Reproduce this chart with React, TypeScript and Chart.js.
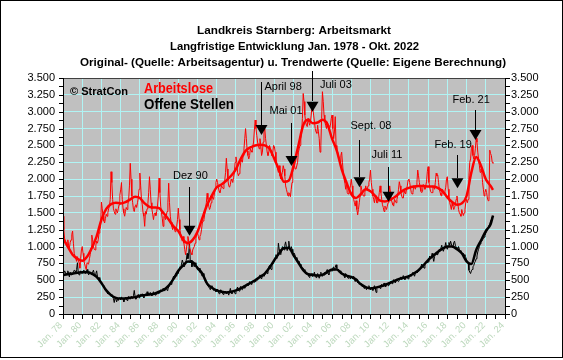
import React, { useEffect, useRef } from 'react';
import { Chart, registerables } from 'chart.js';

Chart.register(...registerables);

// ---------------- DATA ----------------
const START_YEAR = 1978; // first month: Jan. 1978, last month: Okt. 2022

const arbeitsloseOriginal: number[] = [
  1450, 1250, 1120, 1080, 1050, 1000, 1100, 1020, 980, 1060, 1100, 1180,
  1230, 1050, 900, 860, 820, 780, 850, 800, 760, 680, 820, 950,
  1000, 900, 800, 740, 700, 660, 760, 760, 740, 820, 880, 980,
  1170, 1100, 1000, 960, 950, 1020, 1080, 1050, 1100, 1200, 1250, 1300,
  1660, 1560, 1450, 1380, 1350, 1420, 1480, 1450, 1500, 1560, 1600, 1700,
  2110, 1950, 1700, 1560, 1520, 1480, 1560, 1530, 1500, 1560, 1620, 1760,
  1840, 1950, 1700, 1560, 1500, 1450, 1520, 1580, 1550, 1620, 1700, 1900,
  2235, 2000, 1750, 1650, 1550, 1520, 1600, 1620, 1580, 1650, 1720, 1850,
  2090, 1900, 1700, 1620, 1500, 1450, 1300, 1520, 1480, 1560, 1640, 1800,
  2036, 1850, 1650, 1560, 1480, 1400, 1480, 1500, 1460, 1520, 1600, 1750,
  2016, 1800, 1600, 1500, 1420, 1300, 1450, 1440, 1400, 1460, 1520, 1650,
  1940, 1650, 1450, 1360, 1300, 1250, 1300, 1280, 1220, 1260, 1300, 1400,
  1570, 1400, 1250, 1180, 1120, 1080, 1150, 1050, 960, 880, 950, 1050,
  1150, 1080, 980, 950, 900, 880, 950, 980, 1000, 1050, 1120, 1200,
  1200, 1150, 1100, 1150, 1180, 1250, 1350, 1380, 1400, 1480, 1550, 1650,
  1790, 1700, 1600, 1550, 1580, 1650, 1750, 1720, 1700, 1780, 1850, 1950,
  2000, 1950, 1880, 1820, 1800, 1850, 1900, 1880, 1860, 1920, 1980, 2100,
  2310, 2150, 1980, 1900, 1880, 1920, 2000, 1980, 1950, 2020, 2100, 2250,
  2330, 2250, 2100, 2050, 2080, 2150, 2250, 2280, 2250, 2350, 2450, 2600,
  2750, 2600, 2420, 2350, 2300, 2350, 2450, 2420, 2400, 2480, 2550, 2729,
  2877, 2750, 2650, 2550, 2500, 2450, 2600, 2500, 2350, 2400, 2550, 2700,
  2750, 2600, 2500, 2400, 2350, 2400, 2500, 2450, 2400, 2350, 2400, 2500,
  2480, 2400, 2250, 2200, 2150, 2100, 2200, 2050, 2000, 2050, 2100, 2200,
  2150, 2050, 1900, 1850, 1800, 1750, 1800, 1780, 1740, 1850, 1950, 2100,
  2250, 2200, 2150, 2150, 2150, 2250, 2400, 2450, 2500, 2600, 2700, 2900,
  3270, 3150, 2950, 2850, 2800, 2780, 2900, 2850, 2800, 2850, 2950, 3100,
  3050, 2950, 2850, 2750, 2700, 2680, 2800, 2700, 2600, 2400, 2500, 2900,
  3297, 3150, 2950, 2850, 2800, 2750, 2850, 2800, 2750, 2750, 2800, 2900,
  2950, 2750, 2600, 2700, 2927, 2500, 2450, 2400, 2350, 2300, 2250, 2350,
  2400, 2250, 2100, 2000, 1950, 1850, 1950, 1800, 1780, 1800, 1850, 1900,
  2000, 1900, 1750, 1700, 1650, 1600, 1680, 1550, 1470, 1550, 1650, 1750,
  1900, 1850, 1800, 1750, 1750, 1800, 1900, 1850, 1850, 1900, 1950, 2000,
  2135, 1950, 1850, 1750, 1700, 1650, 1750, 1700, 1650, 1650, 1700, 1800,
  1900, 1800, 1700, 1620, 1580, 1520, 1600, 1580, 1550, 1600, 1650, 1750,
  1900, 1800, 1700, 1650, 1620, 1600, 1700, 1680, 1650, 1700, 1750, 1850,
  1962, 1900, 1800, 1750, 1720, 1720, 1820, 1800, 1780, 1850, 1900, 1987,
  2000, 1950, 1870, 1800, 1780, 1800, 1900, 1880, 1850, 1900, 1950, 2135,
  2050, 1950, 1880, 1820, 1800, 1820, 1920, 1900, 1850, 1900, 1960, 2110,
  2185, 1950, 1880, 1820, 1800, 1800, 1900, 1880, 1850, 1950, 2087, 2050,
  2061, 1950, 1850, 1800, 1760, 1750, 1850, 1820, 1780, 1820, 1880, 2012,
  2036, 1850, 1700, 1650, 1600, 1550, 1650, 1600, 1550, 1580, 1620, 1700,
  1750, 1650, 1550, 1500, 1480, 1450, 1550, 1500, 1460, 1500, 1550, 1650,
  1700, 1650, 1700, 2050, 2250, 2300, 2450, 2500, 2350, 2300, 2350, 2450,
  2606, 2550, 2400, 2300, 2200, 2100, 2150, 2100, 1950, 1850, 1750, 1800,
  1850, 1800, 1720, 1680, 1700, 2430, 2380, 2350, 2250, 2235,
];

const offeneStellenOriginal: number[] = [
  560, 600, 640, 620, 580, 610, 640, 600, 550, 620, 580, 600,
  580, 620, 650, 640, 600, 660, 760, 620, 580, 600, 640, 610,
  600, 640, 650, 630, 600, 640, 660, 620, 580, 600, 620, 590,
  580, 620, 650, 600, 560, 600, 640, 560, 520, 540, 500, 480,
  470, 450, 420, 400, 380, 360, 340, 330, 300, 320, 290, 280,
  260, 290, 250, 230, 170, 240, 220, 180, 230, 200, 240, 230,
  210, 250, 240, 220, 180, 230, 250, 220, 200, 240, 260, 230,
  220, 260, 250, 230, 270, 350, 260, 220, 240, 260, 290, 240,
  250, 290, 280, 300, 260, 240, 280, 300, 270, 330, 290, 310,
  280, 320, 290, 270, 300, 330, 300, 280, 310, 290, 320, 300,
  310, 340, 360, 330, 350, 380, 360, 340, 370, 390, 350, 370,
  400, 430, 460, 440, 480, 520, 560, 520, 580, 600, 560, 620,
  600, 660, 700, 680, 740, 800, 760, 700, 720, 760, 800, 900,
  820, 900, 1050, 760, 800, 700, 760, 720, 700, 760, 740, 700,
  700, 660, 680, 620, 640, 580, 560, 600, 540, 520, 480, 460,
  440, 420, 400, 380, 360, 400, 420, 380, 350, 370, 340, 330,
  340, 370, 330, 300, 320, 360, 340, 310, 290, 330, 320, 340,
  300, 330, 310, 280, 330, 380, 320, 300, 340, 350, 330, 300,
  330, 370, 400, 350, 340, 380, 410, 370, 360, 390, 420, 380,
  400, 430, 450, 420, 440, 480, 470, 440, 460, 480, 500, 470,
  480, 510, 530, 500, 540, 560, 580, 540, 520, 560, 590, 560,
  580, 620, 640, 600, 650, 700, 720, 680, 660, 720, 740, 760,
  780, 840, 880, 820, 860, 1050, 960, 900, 880, 950, 1000, 980,
  950, 1020, 1070, 1000, 940, 1000, 1080, 980, 940, 1000, 960, 920,
  880, 900, 860, 820, 840, 800, 760, 780, 720, 740, 700, 680,
  680, 640, 660, 600, 620, 580, 600, 560, 540, 580, 600, 560,
  600, 580, 620, 560, 540, 580, 600, 560, 530, 580, 620, 570,
  560, 600, 580, 620, 600, 640, 660, 600, 580, 620, 650, 640,
  640, 680, 700, 650, 690, 730, 680, 640, 660, 620, 640, 600,
  620, 580, 600, 560, 540, 600, 580, 550, 530, 560, 540, 520,
  560, 540, 520, 560, 500, 480, 520, 500, 460, 480, 440, 460,
  450, 430, 400, 420, 380, 410, 390, 360, 400, 380, 420, 390,
  360, 400, 370, 350, 390, 420, 380, 320, 380, 410, 390, 400,
  380, 420, 440, 400, 430, 460, 420, 400, 430, 450, 420, 440,
  440, 470, 490, 450, 480, 510, 480, 460, 500, 520, 490, 480,
  500, 530, 550, 510, 540, 570, 540, 510, 530, 560, 540, 520,
  540, 570, 590, 560, 600, 620, 590, 560, 600, 630, 610, 620,
  640, 660, 680, 700, 740, 720, 700, 680, 740, 760, 780, 760,
  770, 800, 860, 820, 840, 900, 840, 780, 850, 880, 900, 880,
  880, 920, 960, 940, 980, 1020, 960, 930, 970, 1000, 1060, 980,
  960, 1000, 1060, 1020, 1080, 1040, 1000, 980, 1060, 1080, 1020, 990,
  970, 950, 1000, 960, 940, 920, 900, 880, 900, 880, 860, 840,
  800, 780, 760, 650, 620, 600, 640, 660, 700, 720, 760, 780,
  820, 860, 920, 960, 1000, 1040, 1060, 1080, 1100, 1120, 1140, 1160,
  1200, 1220, 1250, 1280, 1320, 1330, 1380, 1400, 1440, 1460,
];

const trendYears: number[] = [
  1978, 1978.5, 1979, 1979.5, 1980, 1980.5, 1981, 1981.5, 1982, 1982.5,
  1983, 1983.5, 1984, 1984.5, 1985, 1985.5, 1986, 1986.5, 1987, 1987.5,
  1988, 1988.5, 1989, 1989.5, 1990, 1990.5, 1991, 1991.5, 1992, 1992.5,
  1993, 1993.5, 1994, 1994.5, 1995, 1995.5, 1996, 1996.5, 1997, 1997.5,
  1998, 1998.5, 1999, 1999.5, 2000, 2000.5, 2001, 2001.5, 2002, 2002.5,
  2003, 2003.5, 2004, 2004.5, 2005, 2005.5, 2006, 2006.5, 2007, 2007.5,
  2008, 2008.5, 2009, 2009.5, 2010, 2010.5, 2011, 2011.5, 2012, 2012.5,
  2013, 2013.5, 2014, 2014.5, 2015, 2015.5, 2016, 2016.5, 2017, 2017.5,
  2018, 2018.5, 2019, 2019.5, 2020, 2020.5, 2021, 2021.5, 2022, 2022.5,
  2022.75,
];

const arbeitsloseTrend: number[] = [
  1120, 1000, 880, 820, 790, 850, 980, 1150, 1400, 1560,
  1630, 1650, 1640, 1660, 1700, 1740, 1720, 1640, 1590, 1580,
  1570, 1490, 1400, 1300, 1230, 1100, 1050, 1100, 1220, 1420,
  1620, 1760, 1880, 1920, 1980, 2050, 2150, 2300, 2420, 2470,
  2500, 2510, 2500, 2450, 2300, 2130, 1960, 1980, 2200, 2500,
  2800, 2880, 2830, 2840, 2880, 2820, 2600, 2420, 2150, 1950,
  1780, 1720, 1780, 1850, 1820, 1750, 1680, 1670, 1690, 1730,
  1790, 1840, 1870, 1890, 1900, 1900, 1890, 1890, 1870, 1820,
  1730, 1660, 1620, 1640, 1750, 2100, 2330, 2200, 2000, 1900,
  1840,
];

const offeneStellenTrend: number[] = [
  580, 590, 600, 610, 620, 620, 600, 550, 460, 350,
  280, 240, 230, 230, 240, 250, 270, 280, 290, 300,
  330, 360, 420, 520, 640, 720, 780, 770, 680, 600,
  450, 390, 350, 330, 320, 330, 350, 380, 420, 460,
  500, 550, 600, 690, 800, 900, 980, 980, 870, 760,
  650, 590, 580, 570, 580, 620, 660, 660, 600, 570,
  550, 510, 440, 400, 380, 390, 410, 430, 460, 490,
  520, 540, 560, 600, 650, 720, 800, 860, 920, 970,
  1000, 1000, 960, 900, 780, 740, 950, 1090, 1230, 1330,
  1460,
];

const xTickYears: number[] = [
  1978, 1980, 1982, 1984, 1986, 1988, 1990, 1992, 1994, 1996, 1998, 2000,
  2002, 2004, 2006, 2008, 2010, 2012, 2014, 2016, 2018, 2020, 2022, 2024,
];
const xTickLabels: string[] = [
  'Jan. 78', 'Jan. 80', 'Jan. 82', 'Jan. 84', 'Jan. 86', 'Jan. 88', 'Jan. 90', 'Jan. 92',
  'Jan. 94', 'Jan. 96', 'Jan. 98', 'Jan. 00', 'Jan. 02', 'Jan. 04', 'Jan. 06', 'Jan. 08',
  'Jan. 10', 'Jan. 12', 'Jan. 14', 'Jan. 16', 'Jan. 18', 'Jan. 20', 'Jan. 22', 'Jan. 24',
];

const annotationLabels: string[] = ['Dez 90', 'April 98', 'Mai 01', 'Juli 03', 'Sept. 08', 'Juli 11', 'Feb. 19', 'Feb. 21'];
const annotationYears: number[] = [1991.1, 1998.63, 2001.75, 2003.93, 2008.85, 2011.8, 2019.0, 2020.88];
const annotationTipValues: number[] = [1161, 2655, 2195, 3000, 1879, 1665, 1864, 2580];
const annotationTopValues: number[] = [1888, 3445, 2828, 3600, 2580, 2185, 2358, 3025];

const titleLines: string[] = [
  'Landkreis Starnberg: Arbeitsmarkt',
  'Langfristige Entwicklung Jan. 1978 - Okt. 2022',
  'Original- (Quelle: Arbeitsagentur) u. Trendwerte (Quelle: Eigene Berechnung)',
];

// ---------------- STYLE ----------------
const FONT = '"Liberation Sans", Arial, Helvetica, sans-serif';
const GRID = '#B0F4F4';
const PLOT_BG = '#C0C0C0';
const RED = '#FF0000';
const XLABEL = '#BCD8BC';
// label offsets (px) relative to arrow line x / line top
const annotationLabelDX = [-16, 3.5, -21.5, 8, -8.5, -16.5, -22.5, -22.5];
const annotationLabelDY = [-7.5, 8.5, -9.5, 17, -11.5, -8.5, -7, -7.5];
const titleLayout = [
  { left: 197, width: 194, base: 34 },
  { left: 170, width: 249, base: 50 },
  { left: 80, width: 426, base: 66 },
];

const fmtDe = (v: number) =>
  v >= 1000 ? `${Math.floor(v / 1000)}.${String(v % 1000).padStart(3, '0')}` : String(v);

function drawFitted(ctx: CanvasRenderingContext2D, text: string, left: number, base: number, width: number) {
  const w0 = ctx.measureText(text).width;
  ctx.save();
  ctx.translate(left, base);
  ctx.scale(width / w0, 1);
  ctx.textAlign = 'left';
  ctx.textBaseline = 'alphabetic';
  ctx.fillText(text, 0, 0);
  ctx.restore();
}

const decorPlugin = {
  id: 'decor',
  beforeDraw(chart: any) {
    const { ctx, chartArea: a } = chart;
    ctx.save();
    ctx.fillStyle = '#FFFFFF';
    ctx.fillRect(0, 0, chart.width, chart.height);
    ctx.fillStyle = PLOT_BG;
    ctx.fillRect(a.left, a.top, a.right - a.left, a.bottom - a.top);
    ctx.restore();
  },
  afterDatasetsDraw(chart: any) {
    const { ctx, chartArea: a } = chart;
    const xs = chart.scales.x;
    const ys = chart.scales.y;
    const L = Math.round(a.left);
    const R = Math.round(a.right);
    const T = Math.round(a.top);
    const B = Math.round(a.bottom);
    ctx.save();
    // plot border / axes
    ctx.fillStyle = '#404040';
    ctx.fillRect(L, T, R - L + 1, 1);
    ctx.fillStyle = '#000000';
    ctx.fillRect(L, T, 1, B - T + 1);
    ctx.fillRect(R, T, 1, B - T + 1);
    ctx.fillRect(L, B, R - L + 1, 1);
    // y ticks every 125
    for (let v = 0; v <= 3500; v += 125) {
      const y = Math.round(ys.getPixelForValue(v));
      ctx.fillRect(L - 4, y, 4, 1);
      ctx.fillRect(R + 1, y, 4, 1);
    }
    // x ticks every year
    for (let yr = 1978; yr <= 2024; yr += 1) {
      const x = Math.round(xs.getPixelForValue(yr));
      ctx.fillRect(x, B + 1, 1, 4);
    }
    // x labels rotated
    ctx.font = `9.5px ${FONT}`;
    ctx.fillStyle = XLABEL;
    xTickYears.forEach((yr, i) => {
      const x = xs.getPixelForValue(yr);
      ctx.save();
      ctx.translate(x - 2, B + 10);
      ctx.rotate(-Math.PI / 4);
      ctx.textAlign = 'right';
      ctx.textBaseline = 'middle';
      ctx.fillText(xTickLabels[i], 0, 0);
      ctx.restore();
    });
    // annotations
    ctx.fillStyle = '#000000';
    ctx.font = `11px ${FONT}`;
    annotationLabels.forEach((lab, i) => {
      const x = Math.round(xs.getPixelForValue(annotationYears[i]));
      const yTop = ys.getPixelForValue(annotationTopValues[i]);
      const yTip = ys.getPixelForValue(annotationTipValues[i]);
      ctx.fillRect(x, Math.round(yTop), 1, Math.round(yTip - 10 - yTop));
      ctx.beginPath();
      ctx.moveTo(x + 0.5 - 6, yTip - 10);
      ctx.lineTo(x + 0.5 + 6, yTip - 10);
      ctx.lineTo(x + 0.5, yTip);
      ctx.closePath();
      ctx.fill();
      ctx.textAlign = 'left';
      ctx.textBaseline = 'alphabetic';
      ctx.fillText(lab, x + annotationLabelDX[i], yTop + annotationLabelDY[i]);
    });
    // in-plot legend texts
    ctx.font = `bold 11px ${FONT}`;
    ctx.fillStyle = '#000000';
    drawFitted(ctx, '© StratCon', 70, 94.5, 58);
    ctx.font = `bold 15px ${FONT}`;
    ctx.fillStyle = RED;
    drawFitted(ctx, 'Arbeitslose', 144, 92.5, 69);
    ctx.fillStyle = '#000000';
    drawFitted(ctx, 'Offene Stellen', 144, 109, 90);
    // title
    ctx.font = `bold 11px ${FONT}`;
    titleLines.forEach((t, i) => {
      const l = titleLayout[i];
      drawFitted(ctx, t, l.left, l.base, l.width);
    });
    // outer frame
    ctx.fillRect(0, 0, 563, 1);
    ctx.fillRect(0, 0, 1, 358);
    ctx.fillRect(562, 0, 1, 358);
    ctx.fillRect(0, 357, 563, 1);
    ctx.restore();
  },
};

export default function App() {
  const ref = useRef<HTMLCanvasElement | null>(null);
  useEffect(() => {
    if (!ref.current) return;
    const toMonthly = (arr: number[]) => arr.map((v, i) => ({ x: START_YEAR + i / 12, y: v }));
    const toTrend = (arr: number[]) => arr.map((v, i) => ({ x: trendYears[i], y: v }));
    const tickFont = { family: FONT, size: 11 };
    const chart = new Chart(ref.current, {
      type: 'line',
      data: {
        datasets: [
          { label: 'Arbeitslose (Trend)', data: toTrend(arbeitsloseTrend), borderColor: RED, borderWidth: 2.5, pointRadius: 0, cubicInterpolationMode: 'monotone', yAxisID: 'y' },
          { label: 'Offene Stellen (Trend)', data: toTrend(offeneStellenTrend), borderColor: '#000000', borderWidth: 2.5, pointRadius: 0, cubicInterpolationMode: 'monotone', yAxisID: 'y' },
          { label: 'Arbeitslose', data: toMonthly(arbeitsloseOriginal), borderColor: RED, borderWidth: 1, pointRadius: 0, tension: 0, yAxisID: 'y' },
          { label: 'Offene Stellen', data: toMonthly(offeneStellenOriginal), borderColor: '#000000', borderWidth: 1, pointRadius: 0, tension: 0, yAxisID: 'y' },
        ],
      } as any,
      options: {
        responsive: false,
        animation: false,
        events: [],
        layout: { padding: { top: 78, left: 0, right: 0, bottom: 0 } },
        plugins: { legend: { display: false }, tooltip: { enabled: false }, title: { display: false } },
        scales: {
          x: {
            type: 'linear', min: 1978, max: 2024,
            ticks: { stepSize: 2, display: false },
            grid: { color: GRID, drawTicks: false, lineWidth: 1 },
            border: { display: false },
            afterFit: (s: any) => { s.height = 46; },
          },
          y: {
            position: 'left', min: 0, max: 3500,
            ticks: { stepSize: 250, callback: (v: any) => fmtDe(Number(v)), font: tickFont, color: '#000000', padding: 8 },
            grid: { color: GRID, drawTicks: false, lineWidth: 1 },
            border: { display: false },
            afterFit: (s: any) => { s.width = 63; },
          },
          y2: {
            position: 'right', min: 0, max: 3500,
            ticks: { stepSize: 250, callback: (v: any) => fmtDe(Number(v)), font: tickFont, color: '#000000', padding: 6 },
            grid: { display: false, drawTicks: false },
            border: { display: false },
            afterFit: (s: any) => { s.width = 58; },
          },
        },
      } as any,
      plugins: [decorPlugin],
    });
    return () => chart.destroy();
  }, []);
  return (
    <div style={{ position: 'absolute', left: 0, top: 0, width: 563, height: 360 }}>
      <canvas ref={ref} width={563} height={360} style={{ display: 'block', width: 563, height: 360 }} />
    </div>
  );
}
